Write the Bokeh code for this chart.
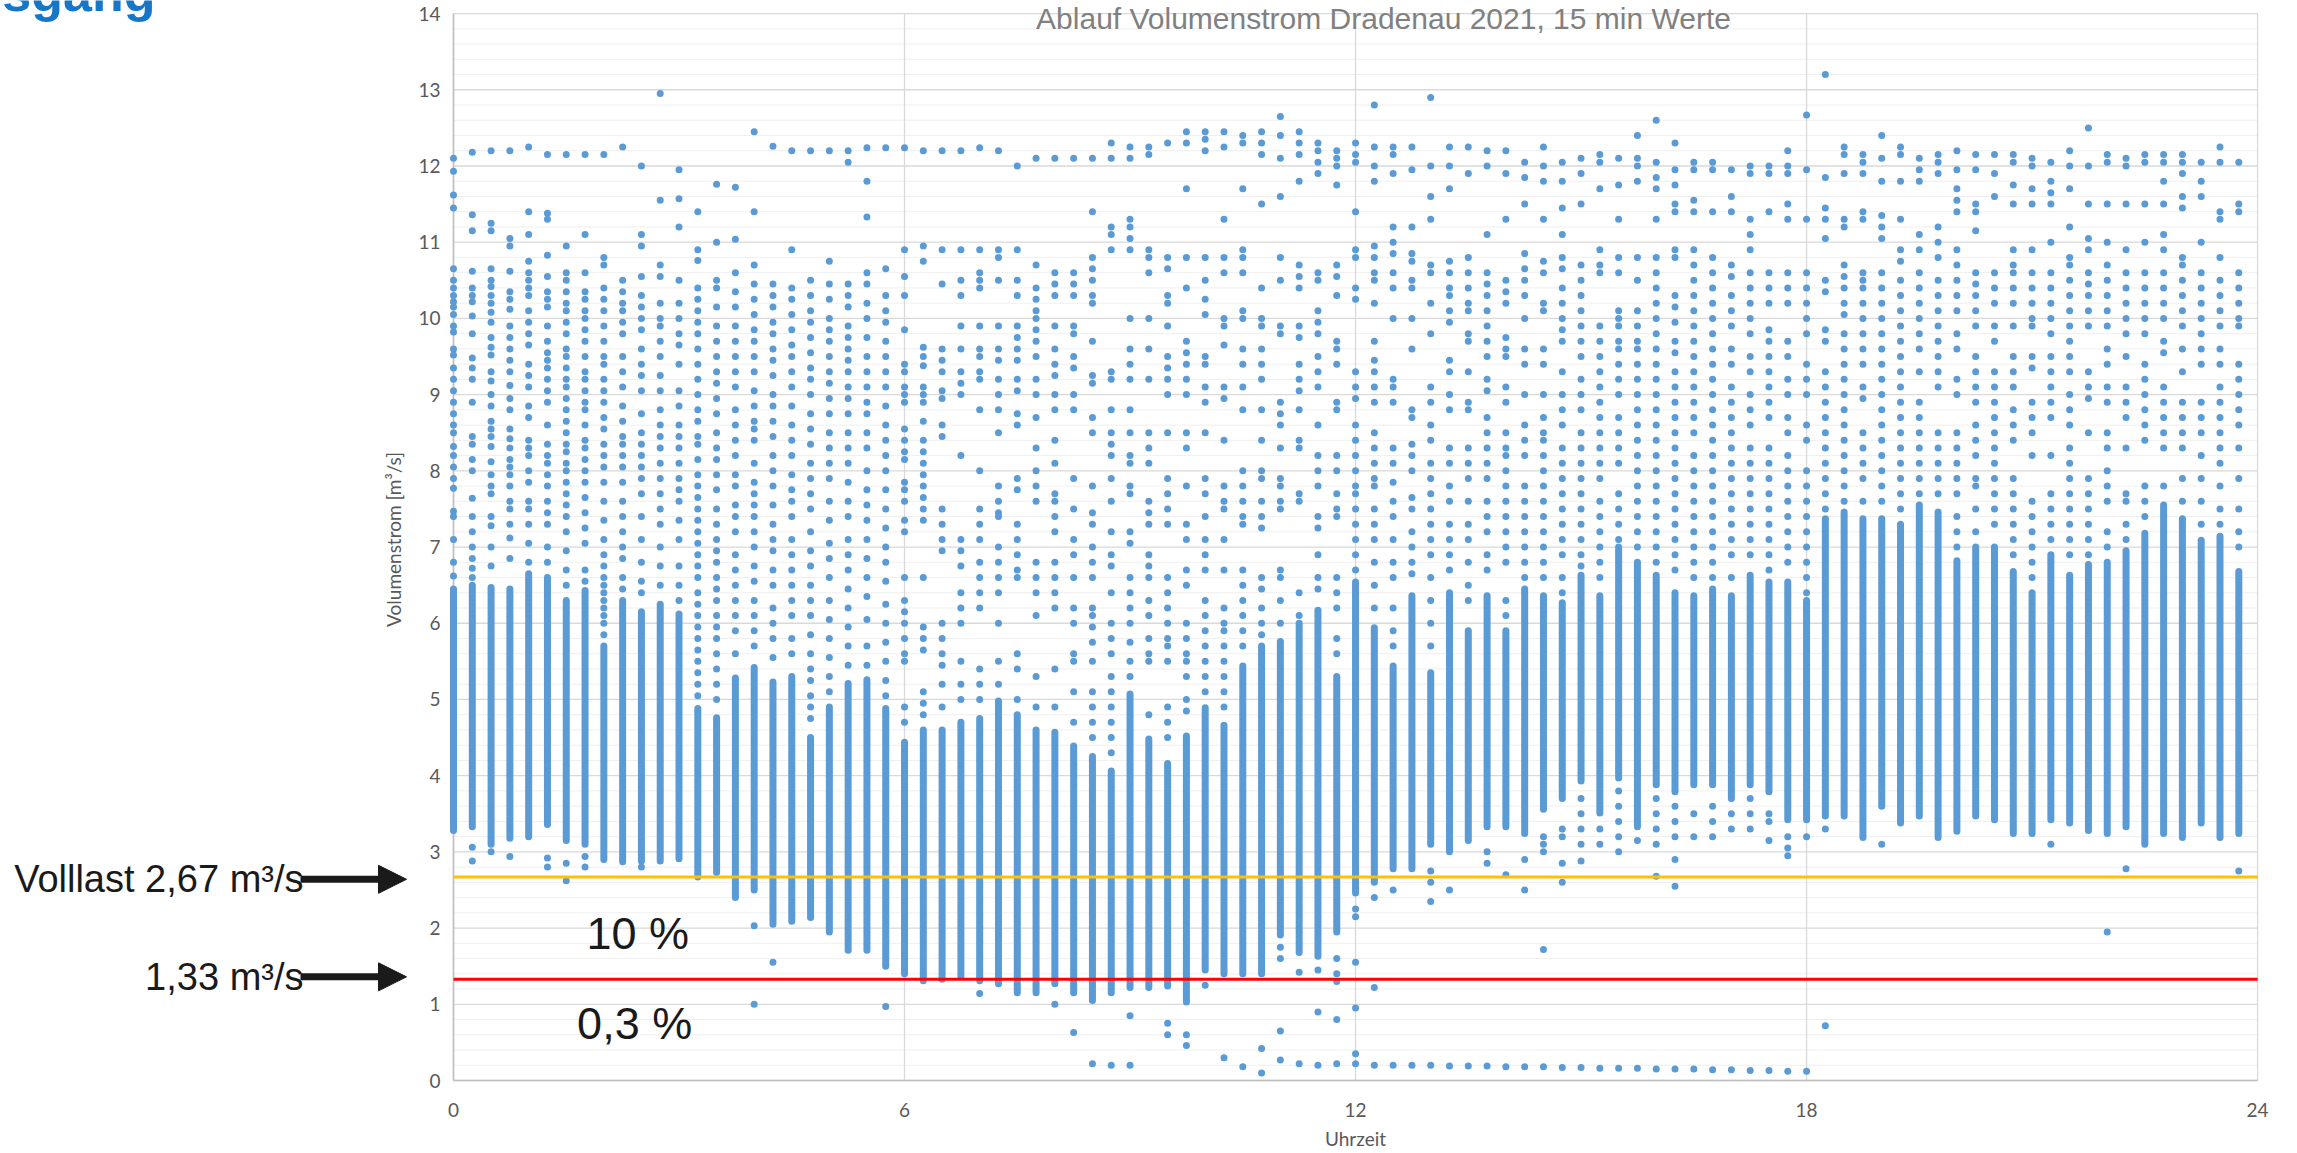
import math
from bokeh.plotting import figure
from bokeh.models import Arrow, NormalHead, Range1d
from bokeh.embed import file_html
from bokeh.resources import INLINE
from bokeh.core.properties import value

# ---------------- data ----------------
# 96 quarter-hour slots of the day
slot_hours = [k / 4 for k in range(96)]

# dense (solid looking) band of each quarter-hour slot, m3/s
band_high = [6.45, 6.5, 6.47, 6.45, 6.65, 6.6, 6.3, 6.43, 5.7, 6.3, 6.15, 6.25,
             6.12, 4.88, 4.76, 5.28, 5.42, 5.23, 5.3, 4.5, 4.9, 5.21, 5.26, 4.88,
             4.44, 4.6, 4.6, 4.7, 4.75, 4.98, 4.8, 4.6, 4.57, 4.39, 4.25, 4.06,
             5.07, 4.48, 4.16, 4.52, 4.89, 4.66, 5.44, 5.7, 5.76, 6.0, 6.17, 5.3,
             6.54, 5.94, 5.44, 6.36, 5.35, 6.4, 5.9, 6.36, 5.9, 6.45, 6.36, 6.27,
             6.63, 6.36, 7.0, 6.8, 6.63, 6.4, 6.36, 6.45, 6.36, 6.63, 6.54, 6.54,
             6.3, 7.37, 7.46, 7.37, 7.37, 7.3, 7.55, 7.46, 6.82, 7.0, 7.0, 6.68,
             6.4, 6.9, 6.63, 6.77, 6.8, 6.95, 7.18, 7.55, 7.37, 7.09, 7.14, 6.68]
band_low = [3.28, 3.33, 3.1, 3.18, 3.2, 3.36, 3.15, 3.1, 2.9, 2.87, 2.88, 2.88,
            2.91, 2.67, 2.73, 2.4, 2.5, 2.05, 2.09, 2.14, 1.95, 1.71, 1.71, 1.5,
            1.4, 1.31, 1.33, 1.36, 1.31, 1.27, 1.15, 1.15, 1.27, 1.15, 1.05, 1.15,
            1.22, 1.22, 1.24, 1.03, 1.45, 1.4, 1.4, 1.4, 1.91, 1.68, 1.63, 1.95,
            2.46, 2.6, 2.78, 2.78, 3.1, 3.0, 3.15, 3.33, 3.33, 3.24, 3.56, 3.7,
            3.93, 3.51, 3.97, 3.33, 3.88, 3.79, 3.88, 3.88, 3.7, 3.88, 3.79, 3.42,
            3.42, 3.47, 3.47, 3.19, 3.6, 3.38, 3.47, 3.19, 3.27, 3.47, 3.42, 3.24,
            3.24, 3.42, 3.38, 3.28, 3.24, 3.33, 3.1, 3.24, 3.19, 3.38, 3.19, 3.24]

# single scattered values of each slot outside the dense band, m3/s
scatter_by_slot = [
    "12.1 11.93 11.62 11.45 10.65 10.5 10.4 10.3 10.22 10.15 10.05 9.9 9.82 9.6 9.52 9.35 9.2 9.05 8.9 8.75 8.6 8.5 8.32 8.2 8.05 7.9 7.77 7.47 7.4 7.1 6.8 6.62",
    "12.18 11.36 11.15 10.62 10.4 10.3 10.22 10.03 9.8 9.48 9.35 9.2 8.9 8.45 8.35 8.15 8.0 7.64 7.4 7.2 7.0 6.85 6.72 6.6 3.06 2.88",
    "12.2 11.25 11.15 10.65 10.5 10.42 10.3 10.2 10.08 9.95 9.75 9.62 9.52 9.3 9.18 9.0 8.85 8.65 8.55 8.45 8.32 8.12 7.95 7.8 7.7 7.4 7.28 7.0 6.75 3.0",
    "12.2 11.05 10.95 10.62 10.35 10.25 10.12 9.9 9.75 9.6 9.45 9.3 9.12 8.95 8.8 8.55 8.42 8.3 8.15 8.05 7.95 7.8 7.6 7.5 7.3 7.12 6.85 2.94",
    "12.25 11.4 11.1 10.75 10.6 10.5 10.4 10.3 10.1 9.95 9.8 9.65 9.4 9.25 9.1 8.85 8.7 8.4 8.3 8.2 8.0 7.85 7.6 7.5 7.3 7.05 6.8",
    "12.15 11.38 11.3 10.83 10.55 10.35 10.25 10.15 9.9 9.7 9.55 9.45 9.35 9.2 9.05 8.9 8.6 8.35 8.2 8.1 7.95 7.8 7.6 7.45 7.3 7.0 6.8 2.92 2.8",
    "12.15 10.95 10.6 10.5 10.35 10.2 10.1 9.95 9.8 9.6 9.5 9.35 9.2 9.1 8.95 8.8 8.65 8.5 8.35 8.25 8.1 8.0 7.85 7.7 7.55 7.4 7.2 6.95 6.7 6.5 2.85 2.62",
    "12.15 11.1 10.6 10.35 10.25 10.1 10.0 9.85 9.7 9.5 9.3 9.2 9.05 8.9 8.8 8.6 8.4 8.3 8.15 8.0 7.85 7.65 7.45 7.25 7.05 6.7 6.55 2.94 2.8",
    "12.15 10.8 10.7 10.4 10.25 10.1 9.9 9.7 9.5 9.4 9.2 9.05 8.9 8.7 8.55 8.35 8.2 8.05 7.85 7.6 7.35 7.1 6.9 6.75 6.6 6.5 6.4 6.3 6.2 6.1 6.0 5.85",
    "12.25 10.5 10.35 10.2 10.1 9.95 9.8 9.5 9.3 9.1 8.85 8.65 8.45 8.35 8.2 8.05 7.85 7.6 7.4 7.2 7.0 6.85 6.6 6.45",
    "12.0 11.1 10.95 10.55 10.3 10.15 10.0 9.85 9.6 9.4 9.25 9.05 8.75 8.5 8.35 8.2 8.05 7.9 7.7 7.4 7.1 6.8 6.55 6.4 2.8",
    "12.95 11.55 10.7 10.55 10.2 10.0 9.9 9.7 9.5 9.25 9.05 8.8 8.6 8.45 8.3 8.1 7.9 7.7 7.5 7.3 7.0 6.75 6.5",
    "11.95 11.57 11.2 10.5 10.2 10.0 9.8 9.65 9.4 9.05 8.85 8.6 8.45 8.3 8.1 7.9 7.75 7.6 7.35 7.1 6.75 6.5 6.3",
    "11.4 10.9 10.76 10.4 10.25 10.1 9.95 9.8 9.6 9.4 9.2 9.0 8.8 8.65 8.45 8.35 8.15 7.95 7.8 7.65 7.5 7.35 7.2 7.05 6.9 6.75 6.6 6.4 6.25 6.1 5.95 5.8 5.65 5.5 5.35 5.2 5.05",
    "11.76 11.0 10.5 10.4 10.15 9.9 9.7 9.5 9.3 9.15 8.95 8.75 8.5 8.3 8.15 7.95 7.75 7.5 7.3 7.1 6.95 6.8 6.6 6.45 6.3 6.1 5.95 5.8 5.6 5.4 5.2 5.0",
    "11.72 11.04 10.6 10.35 10.15 9.9 9.7 9.5 9.3 9.1 8.8 8.6 8.4 8.2 7.95 7.8 7.55 7.4 7.2 6.9 6.7 6.5 6.3 6.1 5.9 5.6",
    "12.45 11.4 10.7 10.45 10.25 10.05 9.85 9.7 9.5 9.3 9.05 8.85 8.65 8.55 8.4 8.1 7.85 7.7 7.55 7.4 7.2 7.0 6.75 6.55 6.3 6.1 5.9 5.7 2.03 1.0",
    "12.26 10.45 10.3 10.15 9.95 9.8 9.6 9.45 9.25 9.0 8.85 8.65 8.45 8.2 8.0 7.8 7.55 7.3 7.1 6.95 6.7 6.5 6.2 6.0 5.8 5.55 1.55",
    "12.2 10.9 10.4 10.25 10.05 9.85 9.65 9.5 9.3 9.1 8.85 8.6 8.4 8.2 7.95 7.75 7.6 7.4 7.1 6.9 6.7 6.5 6.3 6.1 5.8 5.6",
    "12.2 10.5 10.3 10.1 9.95 9.75 9.55 9.35 9.2 9.0 8.75 8.55 8.35 8.1 7.9 7.7 7.5 7.2 6.95 6.75 6.5 6.3 6.1 5.85 5.6 5.4 5.25 5.05 4.9 4.75",
    "12.2 10.75 10.45 10.25 10.0 9.85 9.7 9.5 9.3 9.15 8.95 8.75 8.5 8.3 8.1 7.9 7.6 7.35 7.05 6.85 6.6 6.3 6.05 5.8 5.55 5.3 5.1",
    "12.2 12.05 10.45 10.3 10.15 9.9 9.75 9.6 9.45 9.3 9.1 8.95 8.75 8.5 8.3 8.1 7.85 7.6 7.4 7.1 6.9 6.7 6.45 6.2 5.95 5.7 5.45",
    "12.24 11.8 11.33 10.6 10.45 10.2 10.0 9.75 9.5 9.3 9.1 8.9 8.75 8.5 8.3 8.0 7.75 7.55 7.35 7.1 6.85 6.6 6.35 6.05 5.7 5.45",
    "12.24 10.65 10.3 10.1 9.95 9.7 9.5 9.3 9.1 8.85 8.6 8.4 8.2 8.0 7.75 7.5 7.25 7.0 6.8 6.55 6.25 6.0 5.75 5.5 5.25 5.05 0.97",
    "12.24 10.9 10.55 10.3 9.85 9.4 9.3 9.1 9.0 8.9 8.55 8.4 8.25 8.15 7.85 7.75 7.6 7.35 7.2 6.6 6.3 6.15 6.0 5.8 5.6 5.5 4.9 4.7",
    "12.2 10.95 10.75 9.62 9.5 9.38 9.1 9.0 8.9 8.65 8.4 8.25 8.1 7.95 7.8 7.65 7.5 7.35 6.6 5.95 5.8 5.65 5.1 4.95 4.8",
    "12.2 10.9 10.45 9.6 9.45 9.3 9.05 8.95 8.6 8.45 7.5 7.3 7.1 6.95 6.0 5.8 5.6 5.45 5.2 4.9",
    "12.2 10.9 10.5 10.3 9.9 9.6 9.3 9.15 9.0 8.2 7.1 6.95 6.75 6.4 6.2 6.0 5.5 5.2 5.0",
    "12.24 10.9 10.6 10.5 10.4 9.9 9.6 9.5 9.3 9.2 8.8 8.0 7.5 7.3 7.1 6.8 6.6 6.4 6.2 5.4 5.2 5.0 1.14",
    "12.2 10.9 10.8 10.5 9.9 9.6 9.45 9.2 9.0 8.8 8.5 7.8 7.6 7.45 7.4 7.0 6.8 6.6 6.4 6.0 5.5 5.2",
    "12.0 10.9 10.5 10.3 9.9 9.75 9.6 9.45 9.2 9.05 8.75 8.6 7.9 7.75 7.3 7.1 6.9 6.7 6.6 5.6 5.4 5.0",
    "12.1 10.7 10.4 10.25 10.1 10.0 9.85 9.7 9.5 9.2 9.0 8.7 8.3 8.0 7.8 7.6 6.8 6.6 6.4 6.1 5.3 4.9",
    "12.1 10.6 10.45 10.3 9.9 9.6 9.4 9.25 9.0 8.8 8.4 8.1 7.7 7.6 7.4 7.2 6.8 6.6 6.4 6.2 5.4 4.9 1.0",
    "12.1 10.6 10.45 10.3 9.9 9.8 9.5 9.35 9.0 8.8 7.9 7.5 7.1 6.9 6.6 6.2 6.0 5.6 5.5 5.1 4.7 0.63",
    "12.1 11.4 10.8 10.65 10.5 10.3 10.2 9.7 9.25 9.15 8.7 8.5 7.8 7.45 7.3 7.0 6.8 6.6 6.2 6.1 5.95 5.75 5.5 5.1 4.9 4.7 4.5 0.22",
    "12.3 12.1 11.2 11.1 10.9 9.3 9.2 8.8 8.5 8.35 8.2 7.9 7.6 7.2 6.9 6.75 6.4 6.0 5.8 5.6 5.3 5.1 4.9 4.7 4.5 4.3 0.2",
    "12.25 12.1 11.3 11.2 11.05 10.9 10.0 9.6 9.4 9.2 8.8 8.5 8.2 8.1 7.8 7.7 7.2 7.05 6.6 6.4 6.2 6.0 5.75 5.5 5.3 0.85 0.2",
    "12.25 12.15 10.9 10.8 10.6 10.0 9.6 9.2 8.5 8.3 8.1 7.6 7.45 7.3 6.9 6.75 6.6 6.3 6.1 5.8 5.6 5.5 4.8",
    "12.3 10.8 10.65 10.3 10.2 9.9 9.5 9.35 9.2 9.0 8.5 7.9 7.7 7.5 7.3 6.6 6.4 6.2 6.0 5.8 5.7 5.5 4.9 4.7 4.5 0.75 0.6",
    "12.45 12.3 11.7 10.8 10.4 9.7 9.55 9.4 9.2 9.0 8.5 8.3 7.8 7.3 7.1 6.7 6.5 6.0 5.8 5.6 5.5 5.3 5.0 4.85 0.6 0.46",
    "12.45 12.35 12.2 10.8 10.5 10.25 10.05 9.5 9.4 9.1 8.9 8.5 7.9 7.7 7.4 7.1 6.9 6.7 6.3 6.1 5.9 5.7 5.5 5.3 5.1 1.25",
    "12.45 12.25 11.3 10.8 10.6 10.0 9.9 9.65 9.1 8.95 8.4 7.8 7.6 7.5 7.1 6.7 6.2 6.0 5.9 5.7 5.5 5.3 5.1 4.9 0.3",
    "12.4 12.3 11.7 10.9 10.8 10.6 10.1 10.0 9.6 9.4 9.1 8.8 8.0 7.8 7.6 7.4 7.3 6.7 6.5 6.3 6.1 5.9 5.7 0.18",
    "12.45 12.3 12.15 11.5 10.4 10.0 9.9 9.6 9.4 9.2 8.8 8.4 8.0 7.9 7.6 7.4 7.25 6.6 6.45 6.2 6.0 5.85 0.42 0.1",
    "12.65 12.4 12.1 11.6 10.8 10.5 9.9 9.8 8.9 8.75 8.6 8.3 7.9 7.8 7.6 7.5 6.7 6.6 6.3 6.0 1.75 1.6 0.65 0.27",
    "12.45 12.3 12.15 11.8 10.7 10.55 10.4 9.9 9.75 9.4 9.2 9.05 8.8 8.4 8.3 7.7 7.6 6.4 6.1 1.42 0.22",
    "12.3 12.2 12.05 11.9 10.6 10.5 10.1 9.95 9.8 9.5 9.3 9.1 8.6 8.2 8.0 7.8 7.4 7.25 6.9 6.6 6.45 1.45 0.9 0.2",
    "12.2 12.1 12.0 11.75 10.7 10.55 10.3 9.7 9.6 9.4 8.9 8.8 8.2 8.0 7.7 7.5 7.4 6.6 6.4 6.2 5.8 5.6 1.6 1.4 1.3 0.8 0.22",
    "12.3 12.15 12.05 11.4 10.9 10.8 10.4 10.25 9.3 9.1 8.95 8.6 8.4 8.2 8.0 7.8 7.7 7.5 7.3 7.1 6.9 6.7 2.25 2.15 1.55 0.95 0.35 0.22",
    "12.8 12.25 12.0 11.8 10.95 10.8 10.6 10.5 10.2 9.7 9.45 9.3 9.1 8.9 8.5 8.3 8.1 7.9 7.8 7.5 7.3 7.1 6.8 6.5 6.2 2.4 1.22 0.2",
    "12.25 12.15 11.9 11.2 11.0 10.85 10.6 10.4 10.0 9.2 9.1 8.9 8.3 8.1 7.85 7.6 7.4 7.1 6.8 6.6 6.2 5.9 5.7 2.5 0.2",
    "12.25 11.95 11.2 10.85 10.75 10.5 10.4 10.0 9.6 8.8 8.7 8.35 8.2 8.0 7.65 7.5 7.2 7.0 6.8 6.65 0.2",
    "12.9 12.0 11.6 11.3 10.7 10.6 10.2 9.8 9.1 8.9 8.6 8.4 8.1 7.9 7.7 7.5 7.3 7.1 6.9 6.6 6.3 6.0 5.7 2.75 2.6 2.35 0.2",
    "12.25 12.0 11.7 10.75 10.6 10.4 10.3 10.1 9.95 9.45 9.3 9.0 8.8 8.3 8.1 7.8 7.6 7.3 7.1 6.9 6.7 2.5 0.19",
    "12.25 11.9 10.8 10.6 10.4 10.2 10.1 9.8 9.7 9.3 8.9 8.8 8.3 8.1 7.9 7.6 7.3 7.1 6.8 6.5 6.3 0.19",
    "12.2 12.0 11.1 10.6 10.45 10.3 10.1 9.9 9.7 9.5 9.2 9.05 8.7 8.5 8.3 8.1 7.9 7.6 7.4 7.2 6.9 6.7 3.0 2.85 0.19",
    "12.2 11.9 11.3 10.5 10.35 10.2 9.75 9.6 9.5 9.1 8.9 8.5 8.3 8.2 8.0 7.8 7.6 7.4 7.2 7.0 6.8 6.3 6.1 2.7 0.18",
    "12.05 11.85 11.5 10.85 10.65 10.5 10.3 10.0 9.6 9.4 9.0 8.6 8.4 8.2 7.8 7.6 7.4 7.2 7.0 6.8 6.6 2.9 2.5 0.18",
    "12.25 12.0 11.8 11.3 10.75 10.6 10.2 10.1 9.6 9.4 9.0 8.7 8.5 8.4 8.2 8.0 7.8 7.6 7.4 7.2 7.0 6.8 6.6 3.2 3.1 3.0 1.72 0.18",
    "12.05 11.8 11.45 11.1 10.8 10.65 10.4 10.2 10.0 9.85 9.7 9.3 9.0 8.8 8.6 8.3 8.1 7.9 7.7 7.5 7.3 7.1 6.9 6.6 6.4 3.3 3.2 2.85 2.6 0.17",
    "12.1 11.9 11.5 10.7 10.5 10.3 10.1 9.9 9.7 9.5 9.2 9.0 8.8 8.5 8.3 8.1 7.9 7.7 7.5 7.3 7.1 6.9 6.75 3.7 3.5 3.3 3.1 2.88 0.17",
    "12.15 12.05 11.7 10.9 10.7 10.6 9.9 9.7 9.5 9.3 9.1 8.9 8.7 8.5 8.3 8.1 7.9 7.6 7.4 7.2 7.0 6.8 6.6 3.3 3.1 0.16",
    "12.1 11.75 11.3 10.8 10.6 10.1 10.0 9.9 9.7 9.6 9.4 9.2 9.0 8.7 8.5 8.3 8.1 7.7 7.5 7.3 7.1 3.8 3.6 3.4 3.2 3.0 0.16",
    "12.4 12.1 12.0 11.8 10.8 10.5 10.1 9.9 9.7 9.6 9.4 9.2 9.0 8.8 8.6 8.4 8.2 8.0 7.8 7.6 7.4 7.2 7.0 3.15 0.16",
    "12.6 12.05 11.85 11.7 11.3 10.8 10.6 10.4 10.2 10.0 9.8 9.6 9.4 9.2 9.0 8.8 8.6 8.4 8.2 8.0 7.8 7.6 7.4 7.2 7.0 6.8 3.7 3.5 3.3 3.1 2.68 0.15",
    "12.3 11.95 11.75 11.5 11.4 10.9 10.8 10.3 10.15 9.95 9.7 9.55 9.3 9.1 8.9 8.7 8.5 8.3 8.1 7.9 7.7 7.5 7.3 7.1 6.9 6.7 3.6 3.4 3.2 2.9 2.55 0.15",
    "12.05 11.95 11.55 11.4 10.9 10.7 10.5 10.3 10.1 9.9 9.7 9.5 9.3 9.1 8.9 8.7 8.5 8.2 8.0 7.8 7.6 7.4 7.2 7.0 6.8 6.6 3.5 3.2 0.15",
    "12.05 11.95 11.4 10.8 10.6 10.4 10.2 10.0 9.8 9.6 9.4 9.2 9.0 8.8 8.6 8.4 8.2 8.0 7.8 7.6 7.4 7.2 7.0 6.8 6.6 3.6 3.4 3.2 0.14",
    "11.95 11.6 11.4 10.7 10.55 10.3 10.1 9.9 9.6 9.4 9.1 8.9 8.7 8.5 8.3 8.1 7.9 7.7 7.5 7.3 7.1 6.9 6.6 3.5 3.3 0.14",
    "12.0 11.9 11.3 11.1 10.9 10.6 10.4 10.2 10.0 9.8 9.5 9.3 9.0 8.8 8.6 8.3 8.1 7.9 7.7 7.5 7.3 7.1 6.9 3.7 3.5 3.3 0.13",
    "12.0 11.9 11.4 10.6 10.4 10.2 9.85 9.7 9.5 9.3 9.1 8.9 8.7 8.3 8.1 7.9 7.7 7.5 7.3 7.1 6.9 6.7 3.5 3.4 3.15 0.13",
    "12.2 12.0 11.9 11.5 11.3 10.6 10.4 10.2 9.7 9.5 9.2 9.0 8.7 8.5 8.2 8.0 7.8 7.6 7.4 7.2 7.0 6.8 3.2 3.05 2.95 0.12",
    "12.67 11.95 11.3 10.6 10.4 10.2 10.0 9.8 9.4 9.2 9.0 8.6 8.4 8.0 7.8 7.6 7.4 7.2 7.0 6.8 6.6 6.4 3.2 0.12",
    "13.2 11.85 11.45 11.3 11.05 10.5 10.35 9.85 9.7 9.3 9.1 8.9 8.7 8.5 8.3 8.1 7.9 7.7 7.5 3.3 0.72",
    "12.25 12.15 11.9 11.3 11.2 10.7 10.55 10.4 10.2 10.05 9.8 9.6 9.4 9.2 9.0 8.8 8.6 8.4 8.2 8.0 7.8 7.6",
    "12.15 12.05 11.9 11.4 11.3 10.6 10.5 10.4 10.2 10.0 9.8 9.6 9.4 9.1 8.95 8.5 8.3 8.1 7.9 7.6",
    "12.4 12.1 11.8 11.35 11.2 11.05 10.6 10.4 10.2 10.0 9.8 9.6 9.4 9.2 9.0 8.8 8.6 8.4 8.2 8.0 7.8 7.6 3.1",
    "12.25 12.15 11.8 11.3 10.9 10.75 10.5 10.3 10.1 9.9 9.7 9.5 9.3 9.1 8.9 8.7 8.5 8.3 8.1 7.9 7.7 7.5",
    "12.1 11.95 11.8 11.1 10.9 10.6 10.4 10.2 10.0 9.8 9.6 9.3 8.9 8.7 8.5 8.3 8.1 7.9 7.7",
    "12.15 12.05 11.9 11.2 11.0 10.8 10.5 10.3 10.1 9.9 9.7 9.5 9.3 9.1 8.5 8.3 8.1 7.9 7.7",
    "12.2 11.95 11.7 11.55 11.4 10.9 10.7 10.5 10.3 10.1 9.8 9.6 9.2 9.0 8.5 8.3 8.1 7.9 7.7 7.4 7.2 7.0",
    "12.15 11.95 11.5 11.4 11.15 10.6 10.45 10.3 10.1 9.9 9.5 9.3 9.1 8.9 8.6 8.4 8.2 7.9 7.8 7.5 7.2",
    "12.15 11.9 11.6 10.6 10.4 10.2 9.9 9.7 9.3 9.1 8.9 8.7 8.5 8.3 8.1 7.9 7.7 7.5 7.3",
    "12.15 12.05 11.75 11.5 10.9 10.7 10.6 10.4 10.2 9.9 9.5 9.3 9.1 8.8 8.6 8.4 7.9 7.7 7.5 7.3 7.1 6.9",
    "12.1 12.0 11.7 11.5 10.9 10.6 10.4 10.2 10.0 9.9 9.5 9.35 8.9 8.7 8.5 8.2 7.6 7.4 7.2 7.0 6.8 6.6",
    "12.05 11.8 11.65 11.5 11.0 10.6 10.4 10.2 10.0 9.8 9.5 9.3 9.1 8.9 8.7 8.2 7.7 7.5 7.3 7.1 3.1",
    "12.2 12.0 11.7 11.2 10.8 10.7 10.5 10.3 10.1 9.9 9.7 9.5 9.3 9.0 8.8 8.6 8.3 8.1 7.9 7.7 7.5 7.3 7.1 6.9",
    "12.5 12.0 11.5 11.05 10.9 10.6 10.45 10.3 10.1 9.9 9.3 9.1 8.95 8.5 7.9 7.7 7.5 7.3 7.1 6.9",
    "12.15 12.05 11.5 11.0 10.7 10.5 10.3 10.1 9.9 9.6 9.4 9.1 8.9 8.5 8.3 8.0 7.8 7.6 7.2 7.0 1.95",
    "12.1 12.0 11.5 10.9 10.6 10.4 10.2 10.0 9.8 9.5 9.1 8.9 8.7 8.3 7.7 7.6 7.3 7.1 2.78",
    "12.15 12.05 11.5 11.0 10.6 10.4 10.2 10.0 9.8 9.4 9.2 9.0 8.8 8.6 8.4 7.8 7.6 7.4",
    "12.15 12.05 11.8 11.5 11.1 10.9 10.6 10.4 10.2 10.0 9.7 9.55 9.1 8.9 8.7 8.5 8.3 7.8",
    "12.15 12.05 11.9 11.6 11.45 10.8 10.7 10.5 10.3 10.1 9.9 9.6 9.3 8.9 8.7 8.5 8.3 7.9 7.6",
    "12.05 11.8 11.6 11.0 10.6 10.4 10.2 10.0 9.8 9.6 9.4 8.9 8.7 8.5 8.2 7.9 7.6 7.3",
    "12.25 12.05 11.4 11.3 10.8 10.5 10.3 10.1 9.9 9.6 9.4 9.1 8.9 8.7 8.5 8.3 8.1 7.8 7.5 7.3",
    "12.05 11.5 11.4 10.6 10.4 10.2 10.0 9.9 9.4 9.2 9.0 8.8 8.6 8.3 7.9 7.5 7.2 7.0 2.75",
]

x_ticks = [0, 6, 12, 18, 24]
y_ticks = list(range(0, 15))
y_minor = [t / 5 for t in range(71) if t % 5]
full_load = 2.67
half_load = 1.33

# ---------------- figure ----------------
BLUE = "#5B9BD5"
GREY_TXT = "#595959"
INK = "#1a1a1a"
W, H = 2294, 1150
PX_PER_H = 75.17      # horizontal scale of the plot area
PX_PER_V = 76.21      # vertical scale of the plot area
X0_PX, Y0_PX = 453, 1080  # page position of (0 h, 0 m3/s)


def hx(px):   # page x pixel -> hours
    return (px - X0_PX) / PX_PER_H


def vy(py):   # page y pixel -> m3/s
    return (Y0_PX - py) / PX_PER_V


pts_x, pts_y = [], []
for h, s in zip(slot_hours, scatter_by_slot):
    for v in s.split():
        pts_x.append(h)
        pts_y.append(float(v))

p = figure(width=W, height=H, output_backend="svg", toolbar_location=None, title=None,
           x_axis_type=None, y_axis_type=None,
           x_range=Range1d(hx(0), hx(W)), y_range=Range1d(vy(H), vy(0)),
           min_border=0)
p.background_fill_color = "white"
p.border_fill_color = "white"
p.outline_line_color = None

# grid of the plot area
x_lo, x_hi = x_ticks[0], x_ticks[-1]
y_lo, y_hi = y_ticks[0], y_ticks[-1]
p.segment(x0=[x_lo] * len(y_minor), y0=y_minor, x1=[x_hi] * len(y_minor), y1=y_minor,
          line_color="#efefef", line_width=1)
p.segment(x0=[x_lo] * len(y_ticks), y0=y_ticks, x1=[x_hi] * len(y_ticks), y1=y_ticks,
          line_color="#d9d9d9", line_width=1.3)
p.segment(x0=x_ticks, y0=[y_lo] * len(x_ticks), x1=x_ticks, y1=[y_hi] * len(x_ticks),
          line_color="#d9d9d9", line_width=1.3)
# axis lines
p.segment(x0=[x_lo, x_lo], y0=[y_lo, y_lo], x1=[x_lo, x_hi], y1=[y_hi, y_lo],
          line_color="#bfbfbf", line_width=1.6)

# tick labels and axis titles
tick_style = dict(text_font=value("Lato"), text_font_size=value("19px"), text_color=GREY_TXT)
p.text(x=[hx(440)] * len(y_ticks), y=y_ticks, text=[str(t) for t in y_ticks],
       text_align="right", text_baseline="middle", **tick_style)
p.text(x=x_ticks, y=[vy(1109)] * len(x_ticks), text=[str(t) for t in x_ticks],
       text_align="center", text_baseline="middle", **tick_style)
p.text(x=[12], y=[vy(1138)], text=["Uhrzeit"], text_align="center",
       text_baseline="middle", **tick_style)
p.text(x=[hx(393)], y=[7.1], text=["Volumenstrom [m³/s]"], angle=math.pi / 2,
       text_align="center", text_baseline="middle", **tick_style)

# data
p.segment(x0=slot_hours, y0=band_low, x1=slot_hours, y1=band_high,
          line_color=BLUE, line_width=7, line_cap="round")
p.scatter(pts_x, pts_y, size=7, fill_color=BLUE, line_color=None)

# reference lines
p.line([x_lo, x_hi], [full_load, full_load], line_color="#FFC000", line_width=3)
p.line([x_lo, x_hi], [half_load, half_load], line_color="#FF0000", line_width=3)

# texts
big = dict(text_font=value("Liberation Sans"), text_color=INK)
p.text(x=[hx(1383)], y=[vy(17.5)], text=["Ablauf Volumenstrom Dradenau 2021, 15 min Werte"],
       text_align="center", text_baseline="middle", text_font=value("Liberation Sans"),
       text_font_size=value("30px"), text_color="#808080")
p.text(x=[hx(155)], y=[vy(21)], text=["Tagesgang"], text_align="right",
       text_baseline="bottom", text_font=value("Liberation Sans"),
       text_font_style="bold", text_font_size=value("52px"), text_color="#1677c8")
p.text(x=[2.45], y=[1.93], text=["10 %"], text_align="center", text_baseline="middle",
       text_font_size=value("45px"), **big)
p.text(x=[2.41], y=[0.75], text=["0,3 %"], text_align="center", text_baseline="middle",
       text_font_size=value("45px"), **big)
p.text(x=[hx(303)], y=[2.64], text=["Volllast 2,67 m³/s"], text_align="right",
       text_baseline="middle", text_font_size=value("38px"), **big)
p.text(x=[hx(303)], y=[1.36], text=["1,33 m³/s"], text_align="right",
       text_baseline="middle", text_font_size=value("38px"), **big)
for yy in (2.64, 1.36):
    p.add_layout(Arrow(x_start=hx(300), y_start=yy, x_end=hx(406), y_end=yy,
                       line_color=INK, line_width=7,
                       end=NormalHead(size=28, fill_color=INK, line_color=INK)))

open("out.html", "w").write(file_html(p, INLINE))
